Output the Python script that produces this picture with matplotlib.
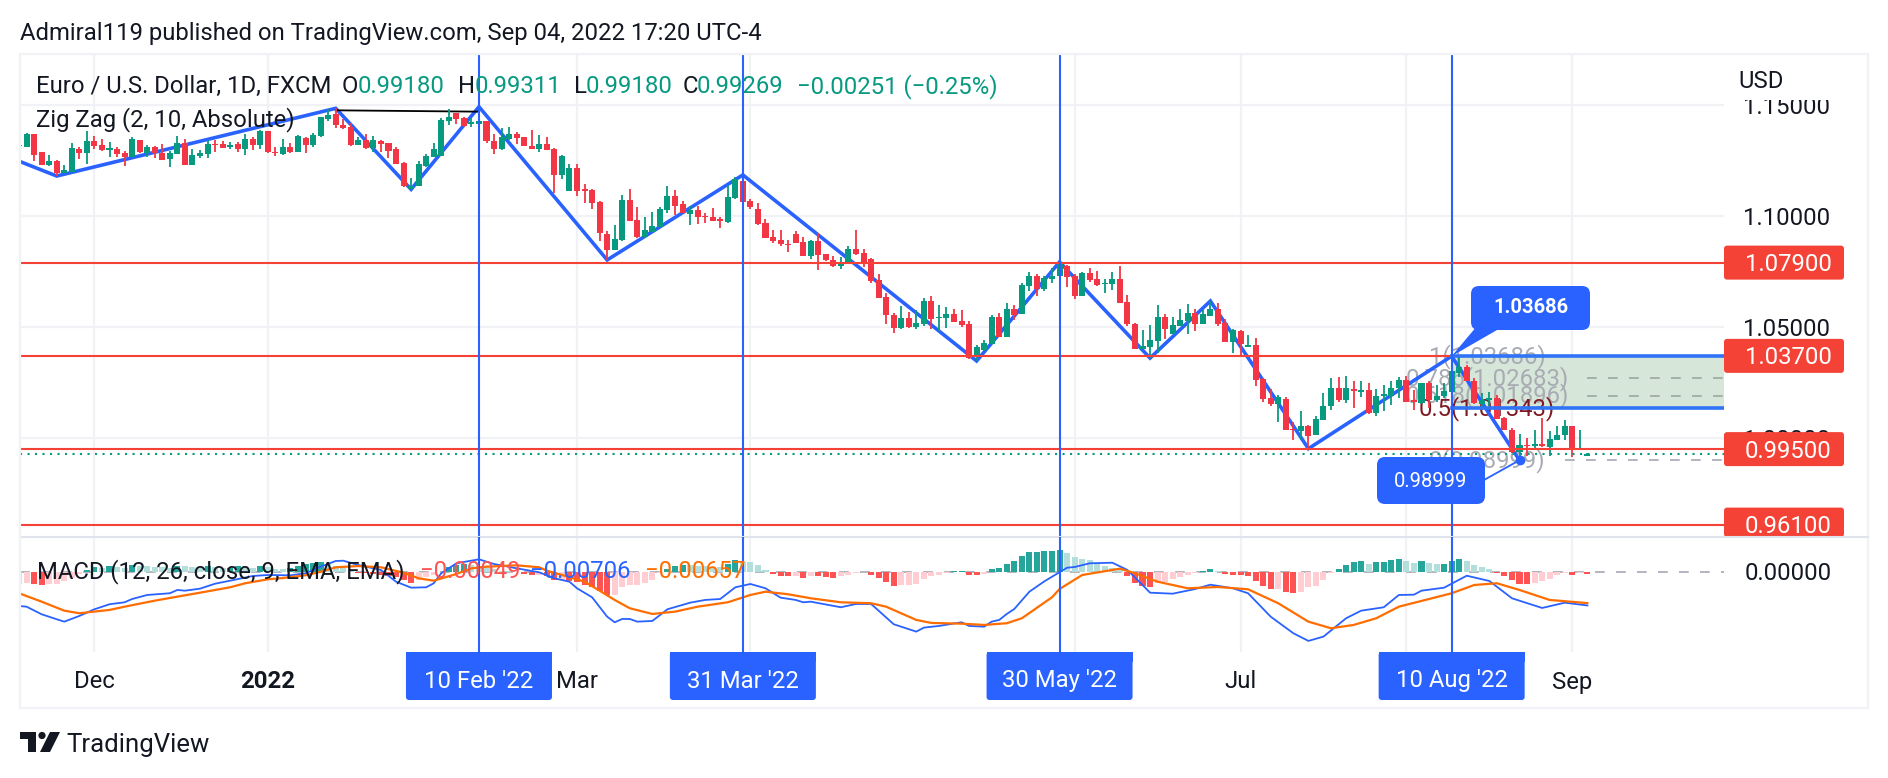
import matplotlib
matplotlib.use('Agg')
import matplotlib.pyplot as plt
from matplotlib.patches import FancyBboxPatch, Rectangle, Polygon, Circle

plt.rcParams['font.family'] = ['Roboto', 'DejaVu Sans']

# daily bars, numbered from 10 Feb '22 (bar 0)
first_bar = -61
opens = [1.1319,1.1312,1.1370,1.1287,1.1230,1.1249,1.1192,1.1200,1.1300,1.1285,
         1.1336,1.1320,1.1297,1.1302,1.1282,1.1264,1.1342,1.1285,1.1309,1.1285,
         1.1255,1.1280,1.1327,1.1231,1.1270,1.1279,1.1326,1.1324,1.1309,1.1324,
         1.1303,1.1345,1.1321,1.1382,1.1288,1.1279,1.1309,1.1288,1.1350,1.1320,
         1.1360,1.1437,1.1459,1.1410,1.1402,1.1320,1.1342,1.1305,1.1338,1.1327,
         1.1300,1.1240,1.1122,1.1135,1.1227,1.1267,1.1270,1.1429,1.1462,1.1443,
         1.1414,1.1414,1.1427,1.1338,1.1300,1.1347,1.1369,1.1355,1.1315,1.1300,
         1.1324,1.1302,1.1185,1.1112,1.1215,1.1120,1.1117,1.1065,1.0919,1.0847,
         1.0892,1.1072,1.0982,1.0907,1.0930,1.0952,1.1027,1.1090,1.1054,1.1009,
         1.1027,1.1000,1.0995,1.0985,1.0975,1.1079,1.1157,1.1068,1.1030,1.0967,
         1.0905,1.0892,1.0874,1.0919,1.0885,1.0822,1.0889,1.0827,1.0802,1.0777,
         1.0784,1.0850,1.0832,1.0805,1.0712,1.0637,1.0555,1.0495,1.0540,1.0499,
         1.0514,1.0617,1.0539,1.0541,1.0559,1.0527,1.0514,1.0370,1.0397,1.0424,
         1.0545,1.0455,1.0581,1.0559,1.0685,1.0730,1.0672,1.0717,1.0730,1.0775,
         1.0730,1.0640,1.0742,1.0717,1.0694,1.0694,1.0717,1.0612,1.0514,1.0402,
         1.0412,1.0437,1.0545,1.0469,1.0505,1.0527,1.0563,1.0514,1.0550,1.0582,
         1.0518,1.0433,1.0482,1.0411,1.0420,1.0267,1.0181,1.0154,1.0177,1.0042,
         1.0032,1.0055,1.0012,1.0079,1.0142,1.0224,1.0172,1.0220,1.0205,1.0217,
         1.0112,1.0187,1.0187,1.0224,1.0262,1.0169,1.0157,1.0247,1.0172,1.0187,
         1.0207,1.0292,1.0322,1.0259,1.0154,1.0172,1.0180,1.0090,1.0037,0.9935,
         0.9970,0.9962,0.9974,0.9959,0.9992,1.0012,1.0055,0.9944,0.9918]
highs = [1.1319,1.1374,1.1370,1.1290,1.1275,1.1252,1.1230,1.1330,1.1309,1.1382,
         1.1360,1.1347,1.1332,1.1312,1.1294,1.1355,1.1342,1.1322,1.1315,1.1324,
         1.1294,1.1360,1.1345,1.1301,1.1297,1.1342,1.1342,1.1336,1.1332,1.1332,
         1.1369,1.1357,1.1387,1.1382,1.1312,1.1345,1.1327,1.1364,1.1357,1.1375,
         1.1447,1.1480,1.1485,1.1435,1.1417,1.1354,1.1369,1.1360,1.1342,1.1330,
         1.1312,1.1245,1.1170,1.1248,1.1278,1.1327,1.1440,1.1480,1.1462,1.1447,
         1.1440,1.1492,1.1427,1.1369,1.1395,1.1399,1.1380,1.1357,1.1387,1.1365,
         1.1357,1.1305,1.1275,1.1234,1.1234,1.1142,1.1122,1.1069,1.0932,1.0959,
         1.1095,1.1122,1.1039,1.0994,1.1017,1.1042,1.1135,1.1117,1.1068,1.1045,
         1.1045,1.1015,1.1037,1.0997,1.1139,1.1174,1.1185,1.1077,1.1057,1.0987,
         1.0937,1.0937,1.0892,1.0932,1.0907,1.0892,1.0922,1.0829,1.0820,1.0814,
         1.0865,1.0937,1.0850,1.0812,1.0739,1.0655,1.0562,1.0595,1.0567,1.0577,
         1.0629,1.0640,1.0599,1.0589,1.0583,1.0577,1.0527,1.0420,1.0442,1.0555,
         1.0562,1.0607,1.0599,1.0697,1.0747,1.0739,1.0730,1.0765,1.0793,1.0780,
         1.0739,1.0748,1.0765,1.0752,1.0717,1.0748,1.0775,1.0645,1.0518,1.0487,
         1.0510,1.0599,1.0559,1.0545,1.0582,1.0604,1.0582,1.0577,1.0617,1.0607,
         1.0537,1.0491,1.0487,1.0465,1.0451,1.0271,1.0222,1.0195,1.0186,1.0073,
         1.0122,1.0060,1.0097,1.0202,1.0272,1.0277,1.0280,1.0255,1.0255,1.0250,
         1.0220,1.0240,1.0255,1.0274,1.0280,1.0217,1.0250,1.0255,1.0240,1.0247,
         1.0369,1.0364,1.0330,1.0270,1.0202,1.0205,1.0194,1.0094,1.0044,1.0018,
         1.0000,1.0037,1.0091,1.0030,1.0055,1.0082,1.0055,1.0037,0.9931]
lows = [1.1317,1.1309,1.1247,1.1230,1.1225,1.1180,1.1192,1.1200,1.1257,1.1234,
        1.1303,1.1294,1.1264,1.1267,1.1227,1.1264,1.1285,1.1267,1.1262,1.1254,
        1.1222,1.1280,1.1231,1.1231,1.1261,1.1262,1.1290,1.1306,1.1301,1.1290,
        1.1276,1.1297,1.1303,1.1282,1.1272,1.1274,1.1285,1.1288,1.1282,1.1312,
        1.1354,1.1429,1.1395,1.1392,1.1317,1.1320,1.1302,1.1290,1.1287,1.1260,
        1.1234,1.1132,1.1122,1.1135,1.1219,1.1267,1.1270,1.1410,1.1414,1.1399,
        1.1402,1.1372,1.1330,1.1279,1.1297,1.1342,1.1324,1.1315,1.1302,1.1287,
        1.1297,1.1102,1.1167,1.1112,1.1090,1.1057,1.1032,1.0889,1.0802,1.0847,
        1.0889,1.0979,1.0900,1.0900,1.0927,1.0949,1.1015,1.1005,1.1012,1.0959,
        1.0964,1.0967,1.0977,1.0947,1.0970,1.1077,1.1060,1.1030,1.0959,1.0902,
        1.0877,1.0865,1.0840,1.0877,1.0820,1.0807,1.0757,1.0797,1.0772,1.0762,
        1.0784,1.0825,1.0772,1.0700,1.0631,1.0514,1.0475,1.0492,1.0495,1.0492,
        1.0505,1.0491,1.0482,1.0495,1.0523,1.0499,1.0357,1.0347,1.0394,1.0424,
        1.0454,1.0455,1.0532,1.0559,1.0662,1.0640,1.0664,1.0697,1.0730,1.0682,
        1.0627,1.0640,1.0702,1.0685,1.0653,1.0667,1.0609,1.0505,1.0402,1.0402,
        1.0360,1.0382,1.0447,1.0469,1.0505,1.0469,1.0482,1.0514,1.0550,1.0505,
        1.0433,1.0383,1.0370,1.0411,1.0235,1.0163,1.0145,1.0073,1.0037,0.9992,
        0.9992,0.9952,1.0012,1.0079,1.0124,1.0162,1.0157,1.0135,1.0184,1.0109,
        1.0100,1.0120,1.0150,1.0180,1.0162,1.0124,1.0154,1.0135,1.0162,1.0182,
        1.0207,1.0277,1.0259,1.0154,1.0127,1.0142,1.0085,1.0034,0.9932,0.98999,
        0.9917,0.9955,0.9959,0.9917,0.9992,0.9989,0.9914,0.9944,0.9918]
closes = [1.1317,1.1370,1.1275,1.1230,1.1247,1.1192,1.1207,1.1306,1.1285,1.1336,
          1.1317,1.1297,1.1305,1.1278,1.1264,1.1345,1.1290,1.1312,1.1282,1.1254,
          1.1282,1.1327,1.1231,1.1274,1.1282,1.1324,1.1320,1.1306,1.1322,1.1300,
          1.1345,1.1320,1.1384,1.1290,1.1282,1.1309,1.1288,1.1360,1.1322,1.1364,
          1.1444,1.1455,1.1410,1.1398,1.1320,1.1342,1.1305,1.1342,1.1323,1.1294,
          1.1234,1.1137,1.1135,1.1234,1.1272,1.1302,1.1432,1.1444,1.1437,1.1405,
          1.1422,1.1427,1.1339,1.1300,1.1354,1.1369,1.1352,1.1315,1.1302,1.1324,
          1.1297,1.1185,1.1272,1.1215,1.1112,1.1114,1.1060,1.0925,1.0847,1.0896,
          1.1072,1.0979,1.0907,1.0937,1.0955,1.1030,1.1090,1.1047,1.1012,1.1027,
          1.0997,1.0994,1.0979,1.0979,1.1084,1.1165,1.1065,1.1042,1.0964,1.0902,
          1.0887,1.0874,1.0870,1.0879,1.0822,1.0887,1.0825,1.0802,1.0775,1.0787,
          1.0852,1.0829,1.0787,1.0707,1.0631,1.0552,1.0495,1.0540,1.0499,1.0517,
          1.0617,1.0535,1.0545,1.0559,1.0523,1.0510,1.0362,1.0409,1.0427,1.0545,
          1.0455,1.0581,1.0555,1.0690,1.0730,1.0670,1.0721,1.0730,1.0787,1.0727,
          1.0640,1.0745,1.0712,1.0688,1.0700,1.0717,1.0609,1.0514,1.0402,1.0413,
          1.0442,1.0545,1.0491,1.0510,1.0532,1.0563,1.0514,1.0559,1.0582,1.0514,
          1.0433,1.0487,1.0424,1.0420,1.0262,1.0177,1.0154,1.0186,1.0037,1.0037,
          1.0055,1.0010,1.0085,1.0145,1.0224,1.0172,1.0224,1.0212,1.0217,1.0112,
          1.0190,1.0197,1.0224,1.0262,1.0162,1.0162,1.0247,1.0172,1.0190,1.0212,
          1.0300,1.0319,1.0259,1.0157,1.0172,1.0180,1.0085,1.0037,0.9935,0.9970,
          0.9962,0.9974,0.9962,0.9995,1.0013,1.0055,0.9944,0.9952,0.99269]
macd_hist = [-.0026,-.0024,-.0026,-.0027,-.0026,-.0025,-.0019,-.0014,-.0004,.0004,
             .0010,.0008,.0012,.0010,.0007,.0013,.0012,.0011,.0010,.0009,
             .0008,.0012,.0011,.0009,.0008,.0012,.0010,.0007,.0008,.0012,
             .0011,.0008,.0012,.0010,.0006,.0005,.0007,.0012,.0016,.0018,
             .0020,.0016,.0012,.0008,.0004,-.0002,-.0003,-.0005,-.0006,-.0008,
             -.0012,-.0018,-.0023,-.0018,-.0012,-.0006,-.0001,.0010,.0014,.0016,
             .0014,.0012,.0009,.0005,.0002,.0001,-.0001,-.0004,-.0007,-.0007,
             -.0010,-.0017,-.0017,-.0019,-.0021,-.0028,-.0031,-.0040,-.0049,-.0048,
             -.0033,-.0028,-.0027,-.0023,-.0017,-.0003,.0006,.0012,.0014,.0013,
             .0012,.0011,.00105,.0010,.0016,.0024,.0021,.0020,.0014,.0004,
             -.0005,-.0009,-.0010,-.00095,-.0013,-.0009,-.0010,-.0011,-.0013,-.0010,
             -.0006,-.0002,-.00015,-.0006,-.0013,-.0022,-.0029,-.0028,-.00275,-.0026,
             -.0015,-.0010,-.0007,-.0002,.0002,.00025,-.0006,-.00065,-.0004,.0005,
             .0007,.0016,.0023,.0033,.0041,.00415,.0043,.0044,.0045,.0040,
             .0030,.0027,.0024,.0017,.0011,.0007,.0005,-.0010,-.0024,-.0029,
             -.0031,-.0024,-.0021,-.0016,-.0012,-.0007,-.0003,.0002,.0006,.0002,
             -.0005,-.0006,-.0007,-.0009,-.0020,-.0030,-.0036,-.00355,-.0043,-.0045,
             -.0042,-.0032,-.0029,-.0017,-.0002,.0006,.0014,.0020,.0022,.0017,
             .0020,.00205,.0024,.0026,.0022,.0019,.0022,.0018,.0016,.0017,
             .0023,.0026,.0023,.0014,.0010,.0005,-.0003,-.0010,-.0017,-.0026,
             -.00265,-.0024,-.0020,-.0016,-.0007,-.0003,-.0007,-.0002,-.00049]

macd_bars = [-61,-60,-58,-56,-55,-53,-51,-49,-47,-46,-44,-41,-40,-39,-37,-35,-33,-30,-28,-25,
             -23,-21,-19,-18,-16,-13,-11,-9,-7,-6,-5,-3,0,2,5,8,10,12,13,15,
             17,18,19,20,21,23,25,28,30,32,34,36,38,40,42,43,44,48,50,52,
             53,55,58,59,61,64,65,67,68,69,70,71,73,75,76,78,79,81,84,86,
             88,89,92,95,97,100,102,105,108,110,112,115,117,120,122,124,125,128,131,134,
             137,141,144,147]
macd_line = [-.00717,-.00732,-.00891,-.00995,-.01045,-.00926,-.00786,-.00681,-.00640,-.00571,
             -.00487,-.00451,-.00382,-.00397,-.00355,-.00251,-.00188,-.00090,-.00069,-.00076,
             -.00033,.00105,.00224,.00230,.00140,.00036,-.00209,-.00334,-.00326,-.00242,
             -.00033,.00176,.00259,.00161,.00071,-.00013,-.00138,-.00209,-.00347,-.00535,
             -.00941,-.01058,-.00989,-.00989,-.01045,-.01030,-.00786,-.00648,-.00591,-.00571,
             -.00326,-.00257,-.00347,-.00543,-.00591,-.00640,-.00627,-.00744,-.00675,-.00675,
             -.00815,-.01099,-.01254,-.01170,-.01135,-.01058,-.01135,-.01150,-.01045,-.01009,
             -.00884,-.00780,-.00418,-.00200,-.00105,.00084,.00098,.00176,.00188,.00036,
             -.00278,-.00439,-.00460,-.00362,-.00272,-.00347,-.00451,-.00941,-.01287,-.01448,
             -.01358,-.00974,-.00815,-.00744,-.00487,-.00481,-.00397,-.00334,-.00084,-.00194,
             -.00556,-.00759,-.00648,-.00706]
signal_bars = [-61,-58,-55,-53,-49,-47,-43,-40,-37,-33,-31,-28,-26,-23,-21,-19,-16,-13,-10,-8,
               -6,-3,-1,1,5,8,9,11,14,16,18,20,23,26,29,33,36,38,41,44,
               48,52,54,58,60,64,67,70,72,76,77,80,85,87,90,94,98,102,106,110,
               113,116,119,122,129,132,135,138,142,147]
signal_line = [-.00451,-.00627,-.00815,-.00869,-.00800,-.00732,-.00606,-.00522,-.00439,-.00326,
               -.00242,-.00159,-.00132,-.00075,0,.00092,.00119,.00092,-.00021,-.00138,
               -.00188,-.00048,.00071,.00105,.00134,.00092,.00021,-.00069,-.00209,-.00397,
               -.00591,-.00765,-.00884,-.00836,-.00732,-.00640,-.00487,-.00418,-.00472,-.00556,
               -.00640,-.00660,-.00732,-.01009,-.01072,-.01087,-.01114,-.01078,-.00974,-.00535,
               -.00362,-.00069,.00063,-.00033,-.00209,-.00347,-.00320,-.00368,-.00660,-.01045,
               -.01183,-.01114,-.00974,-.00732,-.00451,-.00278,-.00242,-.00382,-.00591,-.00657]

zigzag_bars = [-61,-56,-19,-9,0,17,35,66,77,89,97,110,129,138]
zigzag_prices = [1.1247,1.1180,1.1485,1.1120,1.1492,1.0802,1.1185,1.0347,1.0793,1.0360,1.0617,0.9952,1.03686,0.98999]
level_prices = [1.079, 1.037, 0.995, 0.961]
level_labels = ['1.07900', '1.03700', '0.99500', '0.96100']
marker_bars = [0, 35, 77, 129]
marker_labels = ["10 Feb '22", "31 Mar '22", "30 May '22", "10 Aug '22"]
month_bars = [-51, -28, 13, 36, 79, 101, 123, 145]
month_labels = ['Dec', '2022', 'Mar', '', '', 'Jul', '', 'Sep']
price_ticks = [1.15, 1.10, 1.05, 1.00]
fib_ratio_labels = ['1(1.03686)', '0.786(1.02683)', '0.618(1.01896)', '0.5(1.01343)', '0(0.98999)']
fib_prices = [1.03686, 1.02683, 1.01896, 1.01343, 0.98999]

GREEN = '#089981'
RED = '#F23645'
BLUE = '#2962FF'
LEVEL = '#F44336'
ORANGE = '#FF6D00'
INK = '#131722'
GRID = '#F1F2F6'
W, H = 1888, 778
FS = 17.2

fig = plt.figure(figsize=(W / 100, H / 100), dpi=100, facecolor='white')
ax = fig.add_axes([20 / W, (H - 537) / H, 1704 / W, 483 / H])
ax2 = fig.add_axes([20 / W, (H - 652) / H, 1704 / W, 115 / H])
ov = fig.add_axes([0, 0, 1, 1], zorder=10)
ov.set_xlim(0, W)
ov.set_ylim(H, 0)
ov.axis('off')

bars = [first_bar + i for i in range(len(opens))]
xl = (-60.87, 165.12)
ax.set_xlim(xl)
ax2.set_xlim(xl)
ax.set_ylim(0.95541, 1.17297)
ax2.set_ylim(-0.0168, 0.00726)

for a in (ax, ax2):
    for s in a.spines.values():
        s.set_visible(False)
    a.set_xticks(month_bars)
    a.set_xticklabels([])
    a.tick_params(length=0, labelleft=False, labelbottom=False)
    a.grid(True, color=GRID, lw=1.6)
    a.set_axisbelow(True)
ax.set_yticks(price_ticks)
ax2.set_yticks([])
ax2.spines['top'].set_visible(True)
ax2.spines['top'].set_color('#E0E3EB')
ax2.spines['top'].set_linewidth(1.5)

# fib box and its labels sit under the candles
ax.fill_between([129, xl[1]], fib_prices[3], fib_prices[0], color='#D6E6D8', lw=0, zorder=1)
for p in fib_prices[1:3]:
    ax.plot([147, xl[1]], [p, p], color='#A6B0A8', lw=1.4, ls=(0, (5, 5.8)), zorder=1.2)
ax.plot([144, xl[1]], [fib_prices[4]] * 2, color='#B2B5BE', lw=1.4, ls=(0, (5, 5.8)), zorder=1.2)
for lab, p in zip(fib_ratio_labels, fib_prices):
    c = '#801922' if lab.startswith('0.5') else '#A8ABB4'
    ax.text(133.7, p, lab, color=c, fontsize=FS, ha='center', va='center', zorder=1.5)

ax.plot(zigzag_bars, zigzag_prices, color=BLUE, lw=2.6, zorder=2, solid_joinstyle='miter')
ax.plot([-19, 0], [1.1476, 1.1470], color='black', lw=1.3, zorder=2)

# candles
colors = [GREEN if c >= o else RED for o, c in zip(opens, closes)]
ax.vlines(bars, lows, highs, colors=colors, lw=1.3, zorder=3)
body_low = [min(o, c) for o, c in zip(opens, closes)]
body_h = [max(abs(c - o), 0.0003) for o, c in zip(opens, closes)]
ax.bar(bars, body_h, bottom=body_low, width=0.8, color=colors, lw=0, zorder=3)

ax.axhline(closes[-1], color=GREEN, lw=1.5, ls=(0, (1, 2.6)), zorder=3.6)
for p in level_prices:
    ax.axhline(p, color=LEVEL, lw=1.5, zorder=4)
ax.plot([129, xl[1]], [fib_prices[0]] * 2, color='#2F74F6', lw=2.6, zorder=4.5)
ax.plot([129, xl[1]], [fib_prices[3]] * 2, color='#2F74F6', lw=2.6, zorder=4.5)
ax.plot([138], [0.98999], 'o', color=BLUE, ms=6, zorder=5)

# macd pane
hist_colors = []
prev = macd_hist[0]
for v in macd_hist:
    if v >= 0:
        hist_colors.append('#26A69A' if v >= prev else '#B2DFDB')
    else:
        hist_colors.append('#FFCDD2' if v >= prev else '#FF5252')
    prev = v
ax2.axhline(0, color='#B2B5BE', lw=1.4, ls=(0, (5, 5.8)), zorder=1)
ax2.bar(bars, macd_hist, width=0.8, color=hist_colors, lw=0, zorder=2)
ax2.plot(macd_bars, macd_line, color=BLUE, lw=1.3, zorder=3)
ax2.plot(signal_bars, signal_line, color=ORANGE, lw=1.6, zorder=3)

for b in marker_bars:
    ax.axvline(b, color=BLUE, lw=1.5, zorder=6)
    ax2.axvline(b, color=BLUE, lw=1.5, zorder=6)


def to_px(a, x, y):
    d = a.transData.transform((x, y))
    return d[0], H - d[1]


# frame
ov.add_patch(Rectangle((20, 54), 1848, 654, fill=False, ec=GRID, lw=1.6))
ov.plot([1724, 1868], [537, 537], color='#E0E3EB', lw=1.5)

# header and legends
ov.text(20, 33, 'Admiral119 published on TradingView.com, Sep 04, 2022 17:20 UTC-4', color=INK, fontsize=FS, va='center')
ov.text(36, 86.5, 'Euro / U.S. Dollar, 1D, FXCM', color=INK, fontsize=FS, va='center')
for x, t, c in [(342, 'O', INK), (358, '0.99180', GREEN), (458, 'H', INK), (475, '0.99311', GREEN),
                (574, 'L', INK), (586, '0.99180', GREEN), (683, 'C', INK), (697, '0.99269', GREEN),
                (797, '\u22120.00251 (\u22120.25%)', GREEN)]:
    ov.text(x, 86.5, t, color=c, fontsize=FS, va='center')
ov.text(36, 119.5, 'Zig Zag (2, 10, Absolute)', color=INK, fontsize=FS, va='center')
ov.text(37, 571.5, 'MACD (12, 26, close, 9, EMA, EMA)', color=INK, fontsize=FS, va='center')
for x, t, c in [(420, '\u22120.00049', '#FF5252'), (530, '\u22120.00706', BLUE), (645, '\u22120.00657', ORANGE)]:
    ov.text(x, 571.5, t, color=c, fontsize=FS, va='center')

# price scale, the white strip and the label boxes cover parts of the tick labels
for p in price_ticks:
    ov.text(1743, to_px(ax, 0, p)[1] + 2.5, '%.5f' % p, color=INK, fontsize=FS, va='center', zorder=0.5)
ov.add_patch(Rectangle((1726, 56), 140, 44, fc='white', ec='none'))
ov.text(1738, 81.5, 'USD', color=INK, fontsize=FS, va='center')
ov.text(1745, to_px(ax2, 0, 0)[1] + 2, '0.00000', color=INK, fontsize=FS, va='center')
for p, lab in zip(level_prices, level_labels):
    y = to_px(ax, 0, p)[1]
    bottom = min(y + 17, 537)
    ov.add_patch(FancyBboxPatch((1724, y - 17), 120, bottom - y + 17, boxstyle='round,pad=0,rounding_size=3', fc=LEVEL, ec='none'))
    ov.text(1745, y + 2, lab, color='white', fontsize=FS, va='center')

# callouts
x_hi, y_hi = to_px(ax, 129, 1.03686)
x_lo, y_lo = to_px(ax, 138, 0.98999)
ov.add_patch(Polygon([(1477, 326), (1497, 330), (x_hi, y_hi)], fc=BLUE, ec='none'))
ov.add_patch(FancyBboxPatch((1471, 286), 119, 44, boxstyle='round,pad=0,rounding_size=8', fc=BLUE, ec='none'))
ov.text(1530.5, 307.5, '1.03686', color='white', fontsize=14.5, fontweight='bold', ha='center', va='center')
ov.plot([1484, x_lo], [480, y_lo], color=BLUE, lw=1.3)
ov.add_patch(FancyBboxPatch((1377, 457), 108, 47, boxstyle='round,pad=0,rounding_size=8', fc=BLUE, ec='none'))
ov.text(1431, 481, '0.98999', color='white', fontsize=14.5, ha='center', va='center')

# time scale
for b, lab in zip(month_bars, month_labels):
    if lab:
        ov.text(to_px(ax2, b, 0)[0], 682, lab, color=INK, fontsize=FS, ha='center', va='center',
                fontweight='bold' if lab == '2022' else 'normal')
for b, lab in zip(marker_bars, marker_labels):
    xc = to_px(ax2, b, 0)[0]
    ov.add_patch(FancyBboxPatch((xc - 73, 652), 146, 48, boxstyle='round,pad=0,rounding_size=3', fc=BLUE, ec='none'))
    ov.add_patch(Rectangle((xc - 73, 652), 146, 10, fc=BLUE, ec='none'))
    ov.text(xc, 681, lab, color='white', fontsize=FS, ha='center', va='center')

# logo
ov.add_patch(Polygon([(20, 732), (36, 732), (36, 752), (28, 752), (28, 739), (20, 739)], fc=INK, ec='none'))
ov.add_patch(Circle((42, 735.5), 3.6, fc=INK, ec='none'))
ov.add_patch(Polygon([(50, 732), (60, 732), (50, 752), (40, 752)], fc=INK, ec='none'))
ov.text(66, 745, 'TradingView', color=INK, fontsize=18.5, va='center')

fig.savefig('out.png', dpi=100, facecolor='white')
